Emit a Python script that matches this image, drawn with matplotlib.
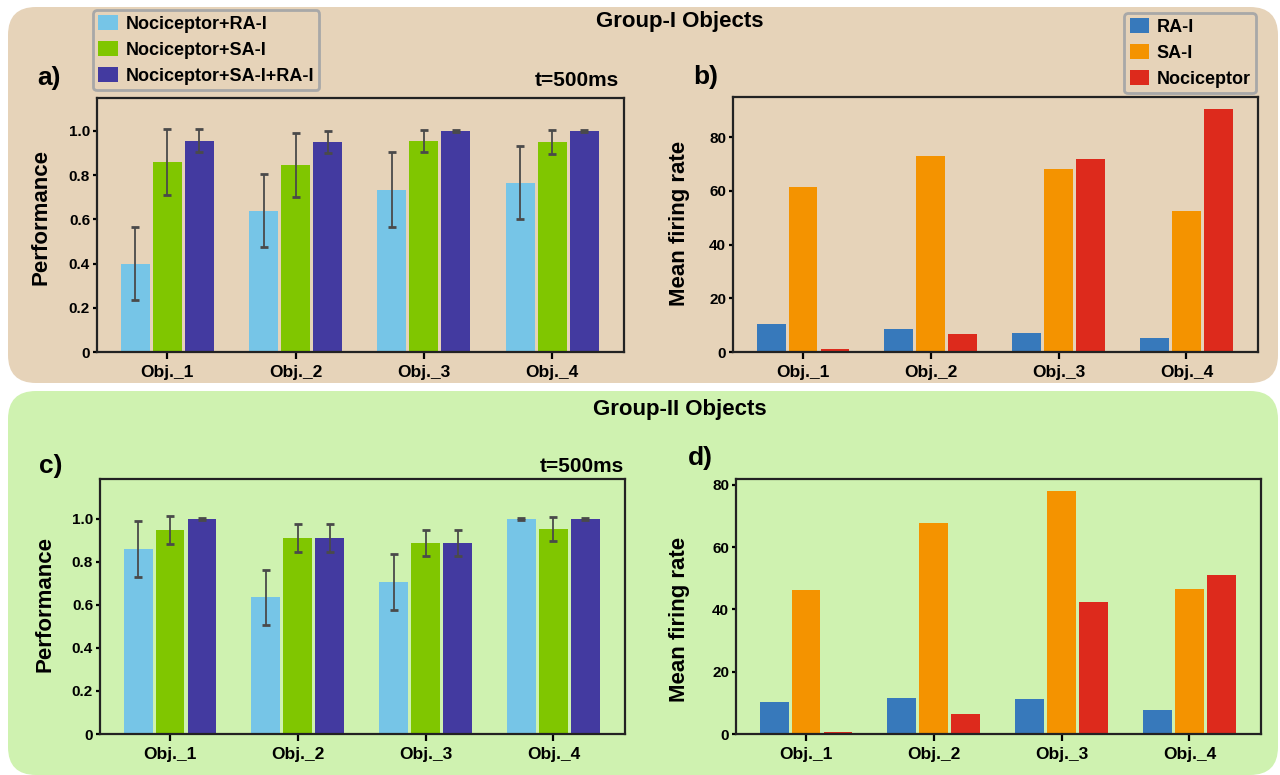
import numpy as np
import matplotlib.pyplot as plt
from matplotlib.patches import FancyBboxPatch, Patch
from matplotlib.transforms import IdentityTransform

plt.rcParams['font.family'] = ['Liberation Sans', 'DejaVu Sans']
plt.rcParams['font.weight'] = 'bold'

objects = ['Obj._1', 'Obj._2', 'Obj._3', 'Obj._4']
perf_labels = ['Nociceptor+RA-I', 'Nociceptor+SA-I', 'Nociceptor+SA-I+RA-I']
rate_labels = ['RA-I', 'SA-I', 'Nociceptor']
perf_colors = ['#76c5e7', '#80c600', '#433aa0']
rate_colors = ['#3779bb', '#f49300', '#dd2a1c']

# Group-I : performance (mean, error) per combination
g1_ra = [0.40, 0.64, 0.735, 0.765]
g1_ra_err = [0.166, 0.166, 0.168, 0.165]
g1_sa = [0.86, 0.845, 0.955, 0.95]
g1_sa_err = [0.148, 0.145, 0.05, 0.056]
g1_all = [0.955, 0.95, 1.0, 1.0]
g1_all_err = [0.052, 0.049, 0.003, 0.003]

# Group-I : mean firing rates
g1_rate_ra = [10.3, 8.4, 6.9, 5.1]
g1_rate_sa = [61.3, 72.8, 68.0, 52.3]
g1_rate_noc = [1.0, 6.6, 71.7, 90.3]

# Group-II : performance
g2_ra = [0.86, 0.637, 0.707, 1.0]
g2_ra_err = [0.129, 0.128, 0.129, 0.003]
g2_sa = [0.949, 0.911, 0.888, 0.953]
g2_sa_err = [0.064, 0.064, 0.061, 0.054]
g2_all = [1.0, 0.911, 0.888, 1.0]
g2_all_err = [0.003, 0.064, 0.061, 0.003]

# Group-II : mean firing rates
g2_rate_ra = [10.2, 11.5, 11.2, 7.6]
g2_rate_sa = [46.2, 67.8, 78.1, 46.5]
g2_rate_noc = [0.5, 6.3, 42.4, 51.0]

W, H = 1280, 775
fig = plt.figure(figsize=(W / 100, H / 100), dpi=100)


def px(x, y):
    return x / W, 1 - y / H


# rounded background boxes for the two object groups
for (x0, y0, x1, y1, col) in [(8, 7, 1278, 383, '#e6d3b9'), (8, 391, 1278, 775, '#cff2b0')]:
    box = FancyBboxPatch((x0, H - y1), x1 - x0, y1 - y0,
                         boxstyle='round,pad=0,rounding_size=28',
                         transform=IdentityTransform(), facecolor=col,
                         edgecolor='none', zorder=0)
    fig.add_artist(box)

x = np.arange(len(objects))
offsets = [-0.25, 0, 0.25]
bw = 0.226


def style_axes(ax, ymax):
    ax.set_facecolor('none')
    ax.set_xlim(-0.548, 3.56)
    ax.set_ylim(0, ymax)
    for s in ax.spines.values():
        s.set_linewidth(1.6)
        s.set_color('#222222')
    ax.tick_params(axis='y', length=3, width=1.6, labelsize=11, pad=2)
    ax.tick_params(axis='x', length=5, width=1.6, labelsize=12.5, pad=4)
    ax.set_xticks(x)
    ax.set_xticklabels(objects, fontweight='bold')


def perf_panel(ax, means, errs, ymax):
    for i in range(3):
        xi = x + offsets[i]
        ax.bar(xi, means[i], bw, color=perf_colors[i], zorder=2)
        _, caps, lines = ax.errorbar(xi, means[i], yerr=errs[i], fmt='none',
                                     ecolor='#4a4a4a', elinewidth=1.3,
                                     capsize=3, capthick=2, zorder=3)
        for c in caps:
            c.set_color('#111111')
    style_axes(ax, ymax)
    ticks = [0, 0.2, 0.4, 0.6, 0.8, 1.0]
    ax.set_yticks(ticks)
    ax.set_yticklabels(['0', '0.2', '0.4', '0.6', '0.8', '1.0'], fontweight='bold')


def rate_panel(ax, vals, ymax):
    for i in range(3):
        ax.bar(x + offsets[i], vals[i], bw, color=rate_colors[i], zorder=2)
    style_axes(ax, ymax)
    ax.set_yticks([0, 20, 40, 60, 80])
    ax.set_yticklabels(['0', '20', '40', '60', '80'], fontweight='bold')


def add_axes(l, t, r, b):
    return fig.add_axes([l / W, 1 - b / H, (r - l) / W, (b - t) / H])


ax_a = add_axes(97, 98, 624, 352)
ax_b = add_axes(733, 97, 1258, 352)
ax_c = add_axes(100, 479, 625, 734)
ax_d = add_axes(736, 479, 1261, 734)

perf_panel(ax_a, [g1_ra, g1_sa, g1_all], [g1_ra_err, g1_sa_err, g1_all_err], 1.149)
rate_panel(ax_b, [g1_rate_ra, g1_rate_sa, g1_rate_noc], 94.9)
perf_panel(ax_c, [g2_ra, g2_sa, g2_all], [g2_ra_err, g2_sa_err, g2_all_err], 1.186)
rate_panel(ax_d, [g2_rate_ra, g2_rate_sa, g2_rate_noc], 81.9)

# titles, panel letters and axis labels
fig.text(*px(680, 22), 'Group-I Objects', ha='center', va='center', fontsize=16, fontweight='bold')
fig.text(*px(680, 409), 'Group-II Objects', ha='center', va='center', fontsize=16, fontweight='bold')
for (lx, ly, s) in [(49, 78, 'a)'), (706, 77, 'b)'), (51, 466, 'c)'), (700, 458, 'd)')]:
    fig.text(*px(lx, ly), s, ha='center', va='center', fontsize=19, fontweight='bold')
fig.text(*px(619, 81), 't=500ms', ha='right', va='center', fontsize=15, fontweight='bold')
fig.text(*px(624, 466), 't=500ms', ha='right', va='center', fontsize=15, fontweight='bold')
for (lx, ly, s) in [(41, 217, 'Performance'), (680, 223, 'Mean firing rate'),
                    (45, 604, 'Performance'), (680, 619, 'Mean firing rate')]:
    fig.text(*px(lx, ly), s, ha='center', va='center', rotation=90, fontsize=16, fontweight='bold')

# legends
h1 = [Patch(facecolor=c) for c in perf_colors]
h2 = [Patch(facecolor=c) for c in rate_colors]
for handles, labels, loc, anchor in [(h1, perf_labels, 'upper left', px(93, 10)),
                                     (h2, rate_labels, 'upper right', px(1256, 13))]:
    leg = fig.legend(handles, labels, loc=loc, bbox_to_anchor=anchor,
                     prop={'size': 13, 'weight': 'bold'}, handlelength=1.1,
                     handleheight=0.9, handletextpad=0.4, labelspacing=0.45,
                     borderpad=0.3, borderaxespad=0, fancybox=True, framealpha=1)
    fr = leg.get_frame()
    fr.set_facecolor('none')
    fr.set_edgecolor('#a8a8a8')
    fr.set_linewidth(2)

fig.savefig('out.png', dpi=100)
